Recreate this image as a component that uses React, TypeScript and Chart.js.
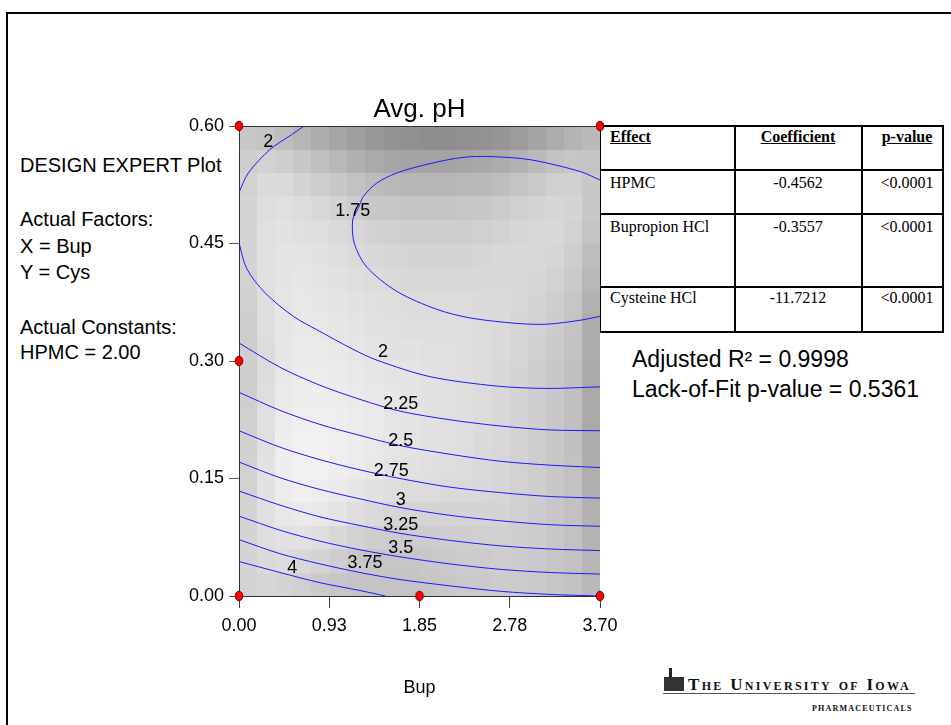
import React, { useEffect, useRef } from 'react';
import { Chart, registerables } from 'chart.js';

Chart.register(...registerables);

// ---------- data ----------
const X_MIN = 0;
const X_MAX = 3.7;
const Y_MIN = 0;
const Y_MAX = 0.6;
const X_TICKS = [0, 0.925, 1.85, 2.775, 3.7];
const X_TICK_LABELS = ['0.00', '0.93', '1.85', '2.78', '3.70'];
const Y_TICKS = [0, 0.15, 0.3, 0.45, 0.6];
const Y_TICK_LABELS = ['0.00', '0.15', '0.30', '0.45', '0.60'];

const DESIGN_POINTS = [
  { x: 0, y: 0.6 }, { x: 3.7, y: 0.6 }, { x: 0, y: 0.3 },
  { x: 0, y: 0 }, { x: 1.85, y: 0 }, { x: 3.7, y: 0 },
];

// contour lines (Bup, Cys)
const CONTOUR_2_TOP = [[0.666, 0.6], [0.54, 0.589], [0.318, 0.57], [0.095, 0.54], [0, 0.515]];
const CONTOUR_1_75 = [[3.7, 0.531], [3.495, 0.542], [2.983, 0.557], [2.573, 0.561], [2.299, 0.56], [1.958, 0.552], [1.616, 0.54], [1.411, 0.527], [1.274, 0.51], [1.223, 0.495], [1.165, 0.48], [1.182, 0.45], [1.309, 0.42], [1.616, 0.389], [2.026, 0.366], [2.368, 0.355], [2.846, 0.348], [3.154, 0.347], [3.495, 0.352], [3.7, 0.357]];
const CONTOUR_2 = [[0, 0.451], [0.079, 0.418], [0.267, 0.387], [0.557, 0.357], [0.796, 0.34], [1.168, 0.315], [1.414, 0.301], [1.958, 0.28], [2.641, 0.268], [3.154, 0.265], [3.7, 0.267]];
const CONTOUR_2_25 = [[0, 0.323], [0.42, 0.292], [0.83, 0.269], [1.24, 0.251], [1.65, 0.236], [2.16, 0.225], [2.68, 0.217], [3.19, 0.212], [3.7, 0.211]];
const CONTOUR_2_5 = [[0, 0.26], [0.42, 0.237], [0.83, 0.219], [1.24, 0.205], [1.65, 0.192], [2.16, 0.181], [2.68, 0.172], [3.19, 0.167], [3.7, 0.164]];
const CONTOUR_2_75 = [[0, 0.211], [0.42, 0.19], [0.83, 0.174], [1.24, 0.161], [1.65, 0.15], [2.16, 0.139], [2.68, 0.132], [3.19, 0.127], [3.7, 0.125]];
const CONTOUR_3 = [[0, 0.171], [0.42, 0.151], [0.83, 0.136], [1.24, 0.124], [1.65, 0.113], [2.16, 0.103], [2.68, 0.096], [3.19, 0.091], [3.7, 0.089]];
const CONTOUR_3_25 = [[0, 0.134], [0.42, 0.116], [0.83, 0.101], [1.24, 0.09], [1.65, 0.08], [2.16, 0.071], [2.68, 0.064], [3.19, 0.06], [3.7, 0.058]];
const CONTOUR_3_5 = [[0, 0.102], [0.42, 0.084], [0.83, 0.07], [1.24, 0.059], [1.65, 0.05], [2.16, 0.041], [2.68, 0.034], [3.19, 0.03], [3.7, 0.028]];
const CONTOUR_3_75 = [[0, 0.072], [0.42, 0.054], [0.83, 0.041], [1.24, 0.03], [1.65, 0.021], [2.16, 0.013], [2.68, 0.006], [3.19, 0.002], [3.7, 0.0]];
const CONTOUR_4 = [[0, 0.044], [0.42, 0.03], [0.83, 0.017], [1.24, 0.007], [1.5, 0]];

const CONTOURS = [CONTOUR_2_TOP, CONTOUR_1_75, CONTOUR_2, CONTOUR_2_25, CONTOUR_2_5, CONTOUR_2_75, CONTOUR_3, CONTOUR_3_25, CONTOUR_3_5, CONTOUR_3_75, CONTOUR_4];

const CONTOUR_LABELS = ['2', '1.75', '2', '2.25', '2.5', '2.75', '3', '3.25', '3.5', '3.75', '4'];
const LABEL_X = [0.3, 1.165, 1.476, 1.657, 1.658, 1.56, 1.658, 1.657, 1.658, 1.291, 0.546];
const LABEL_Y = [0.5817, 0.4934, 0.313, 0.2468, 0.1995, 0.1621, 0.1242, 0.0923, 0.0629, 0.0444, 0.0374];

// background shading (gray level per cell), rows top (Cys=0.6) to bottom (Cys=0)
const SHADE_ROWS = [
  [200, 196, 190, 182, 174, 166, 158, 152, 148, 144, 142, 142, 144, 146, 150, 156, 164, 172, 180, 186],
  [206, 210, 206, 200, 192, 184, 176, 170, 166, 164, 164, 164, 166, 168, 172, 178, 186, 194, 198, 196],
  [210, 218, 218, 212, 206, 200, 194, 188, 184, 182, 182, 182, 184, 186, 190, 196, 202, 208, 208, 200],
  [212, 222, 224, 220, 216, 210, 204, 200, 198, 196, 196, 196, 198, 200, 204, 208, 212, 214, 212, 200],
  [212, 224, 226, 224, 222, 218, 214, 210, 208, 206, 206, 206, 206, 208, 210, 214, 216, 216, 210, 196],
  [212, 224, 228, 228, 226, 222, 218, 216, 214, 212, 212, 212, 212, 214, 216, 216, 216, 214, 206, 190],
  [210, 224, 228, 230, 228, 226, 222, 220, 218, 216, 216, 216, 216, 216, 216, 216, 214, 210, 202, 184],
  [208, 222, 230, 232, 230, 228, 226, 224, 222, 220, 220, 220, 220, 218, 218, 216, 212, 206, 198, 178],
  [206, 222, 230, 232, 232, 230, 228, 226, 224, 222, 222, 222, 222, 220, 218, 214, 210, 204, 196, 174],
  [206, 220, 230, 234, 234, 232, 230, 228, 226, 226, 224, 224, 222, 220, 218, 214, 208, 202, 194, 172],
  [206, 220, 232, 236, 236, 234, 232, 230, 228, 228, 226, 224, 222, 220, 216, 212, 206, 200, 192, 170],
  [206, 222, 234, 238, 238, 236, 234, 232, 230, 228, 226, 224, 222, 220, 216, 212, 206, 200, 192, 170],
  [208, 224, 236, 240, 240, 238, 236, 234, 230, 228, 226, 224, 222, 220, 216, 212, 206, 200, 192, 170],
  [208, 224, 238, 242, 242, 240, 236, 234, 230, 228, 226, 224, 222, 218, 216, 212, 206, 200, 192, 172],
  [210, 226, 238, 242, 242, 238, 236, 232, 228, 226, 224, 222, 220, 218, 214, 210, 206, 200, 194, 174],
  [210, 226, 236, 240, 238, 234, 230, 226, 222, 220, 220, 218, 218, 216, 214, 210, 206, 200, 194, 176],
  [212, 224, 232, 234, 232, 228, 222, 218, 214, 212, 212, 212, 212, 212, 212, 208, 204, 200, 194, 178],
  [212, 222, 226, 226, 222, 216, 210, 206, 204, 204, 204, 206, 206, 208, 208, 206, 204, 200, 194, 180],
  [212, 218, 220, 216, 212, 206, 200, 198, 198, 198, 200, 202, 204, 204, 206, 204, 202, 198, 194, 182],
  [210, 214, 212, 208, 202, 198, 196, 196, 196, 196, 198, 200, 202, 202, 204, 204, 202, 198, 194, 184],
];

const TITLE = 'Avg. pH';
const X_TITLE = 'Bup';
const NOTES = ['DESIGN EXPERT Plot', 'Actual Factors:', 'X = Bup', 'Y = Cys', 'Actual Constants:', 'HPMC = 2.00'];
const TABLE_HEAD = ['Effect', 'Coefficient', 'p-value'];
const TABLE_EFFECTS = ['HPMC', 'Bupropion HCl', 'Cysteine HCl'];
const TABLE_COEFS = ['-0.4562', '-0.3557', '-11.7212'];
const TABLE_PVALUES = ['<0.0001', '<0.0001', '<0.0001'];
const STATS = ['Adjusted R\u00B2 = 0.9998', 'Lack-of-Fit p-value = 0.5361'];

const SANS = '"Liberation Sans", Arial, sans-serif';
const SERIF = '"Liberation Serif", "Times New Roman", serif';

const plotPlugin = {
  id: 'plotDecor',
  beforeDraw(chart: any) {
    const { ctx, chartArea, scales } = chart;
    const xs = scales.x;
    const ys = scales.y;
    const nR = SHADE_ROWS.length;
    ctx.save();
    for (let r = 0; r < nR; r++) {
      const row = SHADE_ROWS[r];
      const nC = row.length;
      const yTop = ys.getPixelForValue(Y_MAX - (Y_MAX - Y_MIN) * r / nR);
      const yBot = ys.getPixelForValue(Y_MAX - (Y_MAX - Y_MIN) * (r + 1) / nR);
      for (let c = 0; c < nC; c++) {
        const x0 = xs.getPixelForValue(X_MIN + (X_MAX - X_MIN) * c / nC);
        const x1 = xs.getPixelForValue(X_MIN + (X_MAX - X_MIN) * (c + 1) / nC);
        const g = row[c];
        ctx.fillStyle = `rgb(${g},${g},${g})`;
        const L = Math.round(x0), R = Math.round(x1), T = Math.round(yTop), B = Math.round(yBot);
        ctx.fillRect(L, T, R - L, B - T);
      }
    }
    ctx.strokeStyle = '#333';
    ctx.lineWidth = 1;
    ctx.beginPath();
    ctx.moveTo(chartArea.left, Math.round(chartArea.top) + 0.5);
    ctx.lineTo(chartArea.right, Math.round(chartArea.top) + 0.5);
    ctx.stroke();
    ctx.restore();
  },
  afterDraw(chart: any) {
    const { ctx, chartArea, scales } = chart;
    const xs = scales.x;
    const ys = scales.y;
    ctx.save();
    ctx.fillStyle = '#000';
    ctx.textAlign = 'center';
    ctx.textBaseline = 'alphabetic';
    ctx.font = `18px ${SANS}`;
    for (let i = 0; i < CONTOUR_LABELS.length; i++) {
      const px = xs.getPixelForValue(LABEL_X[i]);
      const py = ys.getPixelForValue(LABEL_Y[i]);
      ctx.fillText(CONTOUR_LABELS[i], px, py + 6.5);
    }
    ctx.font = `26px ${SANS}`;
    ctx.fillText(TITLE, (chartArea.left + chartArea.right) / 2, chartArea.top - 9);
    ctx.restore();
  },
};

export default function App() {
  const ref = useRef<HTMLCanvasElement>(null);

  useEffect(() => {
    const canvas = ref.current;
    if (!canvas) return;
    const dot = document.createElement('canvas');
    dot.width = 10;
    dot.height = 12;
    const dctx = dot.getContext('2d');
    if (dctx) {
      dctx.beginPath();
      dctx.ellipse(5, 6, 3.8, 4.8, 0, 0, Math.PI * 2);
      dctx.fillStyle = '#ff0000';
      dctx.fill();
      dctx.lineWidth = 1;
      dctx.strokeStyle = '#6a0000';
      dctx.stroke();
    }

    const lineSets = CONTOURS.map((pts) => ({
      type: 'scatter' as const,
      data: pts.map((p) => ({ x: p[0], y: p[1] })),
      showLine: true,
      borderColor: 'rgb(25,25,255)',
      borderWidth: 1,
      pointRadius: 0,
      tension: 0.3,
      fill: false,
    }));

    const chart = new Chart(canvas, {
      type: 'scatter',
      data: {
        datasets: [
          ...lineSets,
          {
            type: 'scatter',
            data: DESIGN_POINTS,
            pointStyle: dot as any,
            pointRadius: 5,
            showLine: false,
            clip: false as any,
          } as any,
        ],
      },
      options: {
        responsive: false,
        animation: false,
        events: [],
        layout: { padding: { left: 179, top: 126, right: 351, bottom: 26 } },
        plugins: {
          legend: { display: false },
          tooltip: { enabled: false },
          title: { display: false },
        },
        scales: {
          x: {
            type: 'linear',
            min: X_MIN,
            max: X_MAX,
            afterBuildTicks: (s: any) => { s.ticks = X_TICKS.map((v) => ({ value: v })); },
            afterFit: (s: any) => { s.height = 103; },
            ticks: {
              autoSkip: false,
              maxRotation: 0,
              padding: 7,
              color: '#000',
              font: { family: SANS, size: 18 },
              callback: (_v: any, i: number) => X_TICK_LABELS[i],
            },
            grid: { drawOnChartArea: false, drawTicks: true, tickLength: 12, color: '#444', lineWidth: 1 },
            border: { display: true, color: '#333', width: 1 },
            title: { display: true, text: X_TITLE, color: '#000', font: { family: SANS, size: 18, lineHeight: 1.2 }, padding: { top: 0, bottom: 0 } },
          },
          y: {
            type: 'linear',
            min: Y_MIN,
            max: Y_MAX,
            afterBuildTicks: (s: any) => { s.ticks = Y_TICKS.map((v) => ({ value: v })); },
            afterFit: (s: any) => { s.width = 60; },
            ticks: {
              padding: 5,
              color: '#000',
              font: { family: SANS, size: 18 },
              callback: (_v: any, i: number) => Y_TICK_LABELS[i],
            },
            grid: { drawOnChartArea: false, drawTicks: true, tickLength: 10, color: '#555', lineWidth: 1 },
            border: { display: true, color: '#333', width: 1 },
          },
        },
      },
      plugins: [plotPlugin],
    });
    return () => chart.destroy();
  }, []);

  const noteTops = [153, 207, 234, 260, 315, 340];
  const colLines = [599, 734, 861, 942];
  const rowLines = [125, 169, 213, 286, 331];
  const rowTextTops = [174, 218, 289];

  const abs = (s: any) => ({ position: 'absolute' as const, ...s });

  return (
    <div style={abs({ left: 0, top: 0, width: 951, height: 725, overflow: 'hidden', background: '#fff' })}>
      <div style={abs({ left: 6, top: 12, width: 1000, height: 800, borderTop: '2px solid #000', borderLeft: '2px solid #000' })} />
      {NOTES.map((t, i) => (
        <div key={t} style={abs({ left: 20, top: noteTops[i], fontFamily: SANS, fontSize: 20, lineHeight: '24px', color: '#000', whiteSpace: 'nowrap' })}>{t}</div>
      ))}
      {/* table */}
      {colLines.map((x, i) => (
        <div key={'c' + i} style={abs({ left: x, top: 125, width: 2, height: 208, background: '#000' })} />
      ))}
      {rowLines.map((y, i) => (
        <div key={'r' + i} style={abs({ left: 599, top: y, width: 345, height: 2, background: '#000' })} />
      ))}
      <div style={abs({ left: 610, top: 128, fontFamily: SERIF, fontWeight: 'bold', fontSize: 16, lineHeight: '18px', textDecoration: 'underline' })}>{TABLE_HEAD[0]}</div>
      <div style={abs({ left: 736, width: 124, top: 128, textAlign: 'center', fontFamily: SERIF, fontWeight: 'bold', fontSize: 16, lineHeight: '18px', textDecoration: 'underline' })}>{TABLE_HEAD[1]}</div>
      <div style={abs({ left: 870, width: 74, top: 128, textAlign: 'center', fontFamily: SERIF, fontWeight: 'bold', fontSize: 16, lineHeight: '18px', textDecoration: 'underline' })}>{TABLE_HEAD[2]}</div>
      {TABLE_EFFECTS.map((t, i) => (
        <React.Fragment key={t}>
          <div style={abs({ left: 610, top: rowTextTops[i], fontFamily: SERIF, fontSize: 16, lineHeight: '18px', whiteSpace: 'nowrap' })}>{t}</div>
          <div style={abs({ left: 736, width: 124, top: rowTextTops[i], textAlign: 'center', fontFamily: SERIF, fontSize: 16, lineHeight: '18px' })}>{TABLE_COEFS[i]}</div>
          <div style={abs({ left: 870, width: 74, top: rowTextTops[i], textAlign: 'center', fontFamily: SERIF, fontSize: 16, lineHeight: '18px' })}>{TABLE_PVALUES[i]}</div>
        </React.Fragment>
      ))}
      {STATS.map((t, i) => (
        <div key={t} style={abs({ left: 632, top: [345, 375][i], fontFamily: SANS, fontSize: 23, lineHeight: '28px', whiteSpace: 'nowrap' })}>{t}</div>
      ))}
      {/* logo */}
      <div style={abs({ left: 669, top: 668, width: 3, height: 10, background: '#222' })} />
      <div style={abs({ left: 664, top: 677, width: 20, height: 14, background: '#333' })} />
      <div style={abs({ left: 688, top: 676, fontFamily: SERIF, fontWeight: 'bold', fontVariant: 'small-caps', fontSize: 17, lineHeight: '18px', letterSpacing: '2.3px', whiteSpace: 'nowrap', color: '#111' })}>The University of Iowa</div>
      <div style={abs({ left: 663, top: 693, width: 252, height: 1, background: '#555' })} />
      <div style={abs({ left: 812, top: 704, fontFamily: SERIF, fontWeight: 'bold', fontSize: 8, lineHeight: '10px', letterSpacing: '1.2px', whiteSpace: 'nowrap', color: '#111' })}>PHARMACEUTICALS</div>
      <canvas ref={ref} width={951} height={725} style={abs({ left: 0, top: 0, width: 951, height: 725 })} />
    </div>
  );
}
